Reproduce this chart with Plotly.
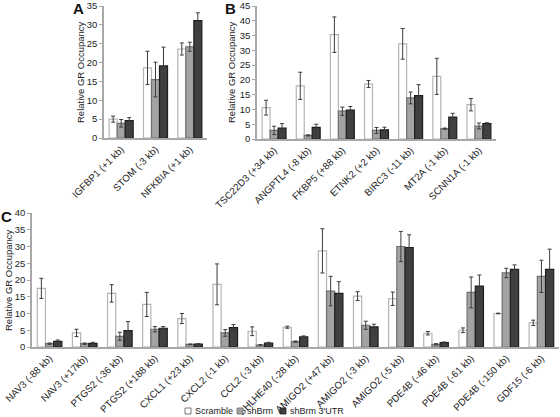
import plotly.graph_objects as go

series_names = ["Scramble", "shBrm", "shBrm 3'UTR"]

# Panel A
cats_a = ["IGFBP1 (+1 kb)", "STOM (-3 kb)", "NFKBIA (+1 kb)"]
a_scr = [5.0, 18.6, 23.6]
a_scr_err = [0.8, 4.4, 1.6]
a_shb = [3.9, 15.5, 24.2]
a_shb_err = [1.0, 4.6, 1.2]
a_utr = [4.6, 19.1, 31.1]
a_utr_err = [0.8, 5.0, 2.1]

# Panel B
cats_b = ["TSC22D3 (+34 kb)", "ANGPTL4 (-8 kb)", "FKBP5 (+88 kb)", "ETNK2 (+2 kb)",
          "BIRC3 (-11 kb)", "MT2A (-1 kb)", "SCNN1A (-1 kb)"]
b_scr = [10.6, 18.0, 35.3, 18.6, 32.2, 21.2, 11.6]
b_scr_err = [2.5, 4.6, 6.0, 1.2, 5.2, 6.1, 2.1]
b_shb = [2.9, 1.2, 9.4, 2.9, 13.9, 3.5, 4.4]
b_shb_err = [1.4, 0.2, 1.4, 1.0, 2.0, 0.2, 1.0]
b_utr = [3.7, 3.9, 9.8, 3.1, 14.7, 7.4, 5.2]
b_utr_err = [1.5, 1.1, 1.2, 0.9, 3.7, 1.3, 0.3]

# Panel C
cats_c = ["NAV3 (-88 kb)", "NAV3 (+17kb)", "PTGS2 (-36 kb)", "PTGS2 (+188 kb)",
          "CXCL1 (+23 kb)", "CXCL2 (-1 kb)", "CCL2 (-3 kb)", "BHLHE40 (-28 kb)",
          "AMIGO2 (+47 kb)", "AMIGO2 (-3 kb)", "AMIGO2 (-5 kb)", "PDE4B (-46 kb)",
          "PDE4B (-61 kb)", "PDE4B (-150 kb)", "GDF15 (-6 kb)"]
c_scr = [17.5, 4.2, 16.0, 12.7, 8.5, 18.7, 4.7, 5.9, 28.7, 15.2, 14.4, 4.1, 5.0, 10.0, 7.2]
c_scr_err = [3.0, 1.1, 2.6, 3.6, 1.5, 6.1, 1.3, 0.3, 6.6, 1.3, 2.0, 0.5, 0.7, 0.1, 0.8]
c_shb = [1.0, 1.0, 3.2, 5.3, 0.8, 4.2, 0.6, 1.6, 16.7, 6.5, 30.0, 0.8, 16.3, 22.1, 21.1]
c_shb_err = [0.2, 0.2, 1.2, 0.8, 0.1, 1.0, 0.1, 0.2, 4.4, 1.2, 4.5, 0.2, 4.6, 1.4, 4.8]
c_utr = [1.7, 1.1, 4.9, 5.6, 0.9, 5.8, 1.2, 3.0, 16.0, 6.0, 29.7, 1.3, 18.2, 23.2, 23.2]
c_utr_err = [0.4, 0.3, 2.7, 0.5, 0.1, 0.9, 0.2, 0.3, 3.5, 0.8, 3.8, 0.2, 3.3, 1.3, 6.0]

fills = ["#ffffff", "#a3a3a3", "#404040"]
lines = ["#b4b4b4", "#707070", "#1e1e1e"]
FONT = "Liberation Sans, Arial, sans-serif"

fig = go.Figure()

panels = [
    ("x", "y", cats_a, [a_scr, a_shb, a_utr], [a_scr_err, a_shb_err, a_utr_err]),
    ("x2", "y2", cats_b, [b_scr, b_shb, b_utr], [b_scr_err, b_shb_err, b_utr_err]),
    ("x3", "y3", cats_c, [c_scr, c_shb, c_utr], [c_scr_err, c_shb_err, c_utr_err]),
]
for xa, ya, cats, vals, errs in panels:
    for i in range(3):
        fig.add_trace(go.Bar(
            x=cats, y=vals[i], name=series_names[i], xaxis=xa, yaxis=ya,
            marker=dict(color=fills[i], line=dict(color=lines[i], width=1.2)),
            error_y=dict(type="data", array=errs[i], visible=True,
                         color="#3c3c3c", thickness=1, width=2),
            showlegend=False,
        ))

W, H = 560, 417
def fx(px): return px / W
def fy(py): return 1 - py / H

axis_common = dict(showline=True, linecolor="#a8a8a8", linewidth=1.5,
                   showgrid=False, zeroline=False, ticks="outside",
                   tickcolor="#a8a8a8", ticklen=3, automargin=False,
                   ticklabeloverflow="allow",
                   tickfont=dict(family=FONT, size=9.5, color="#222"))
xaxis_common = dict(axis_common, tickangle=-45, ticks="", tickfont=dict(family=FONT, size=9.8, color="#222"))

fig.update_layout(
    width=W, height=H, margin=dict(l=0, r=0, t=0, b=0),
    paper_bgcolor="white", plot_bgcolor="white",
    barmode="group", bargap=0.3, bargroupgap=0.0,
    font=dict(family=FONT, size=10, color="#222"),
    xaxis=dict(xaxis_common, domain=[fx(104), fx(207)], anchor="y"),
    yaxis=dict(axis_common, domain=[fy(138), fy(6)], range=[0, 35.001], tick0=0, dtick=5, anchor="x"),
    xaxis2=dict(xaxis_common, domain=[fx(257), fx(496)], anchor="y2"),
    yaxis2=dict(axis_common, domain=[fy(139), fy(6)], range=[0, 45.001], tick0=0, dtick=5, anchor="x2"),
    xaxis3=dict(xaxis_common, domain=[fx(32), fx(559)], anchor="y3"),
    yaxis3=dict(axis_common, domain=[fy(347), fy(213)], range=[0, 40.001], tick0=0, dtick=5, anchor="x3"),
)

ann = []
for txt, x, y in [("A", 78, 9), ("B", 230, 9), ("C", 6, 216)]:
    ann.append(dict(text="<b>%s</b>" % txt, x=fx(x), y=fy(y), xref="paper", yref="paper",
                    xanchor="center", yanchor="middle",
                    showarrow=False, font=dict(family=FONT, size=15, color="#111")))
for x, yc in [(80, 72), (231, 72), (8, 280)]:
    ann.append(dict(text="Relative GR Occupancy", x=fx(x), y=fy(yc), xref="paper", yref="paper",
                    xanchor="center", yanchor="middle",
                    showarrow=False, textangle=-90, font=dict(family=FONT, size=9.5, color="#222")))

# legend
leg_items = [("Scramble", 185), ("shBrm", 237), ("shBrm 3'UTR", 280)]
shapes = []
for i, (name, lx) in enumerate(leg_items):
    shapes.append(dict(type="rect", xref="paper", yref="paper",
                       x0=fx(lx), x1=fx(lx + 6), y0=fy(414), y1=fy(408),
                       fillcolor=fills[i], line=dict(color=lines[i] if i else "#555", width=0.8)))
    ann.append(dict(text=name, x=fx(lx + 8), y=fy(411), xref="paper", yref="paper",
                    xanchor="left", yanchor="middle",
                    showarrow=False, font=dict(family=FONT, size=9, color="#222")))

fig.update_layout(annotations=ann, shapes=shapes)
fig.write_html("out.html", config={"displayModeBar": False},
               post_script="document.body.style.margin='0';document.body.style.overflow='hidden';")
